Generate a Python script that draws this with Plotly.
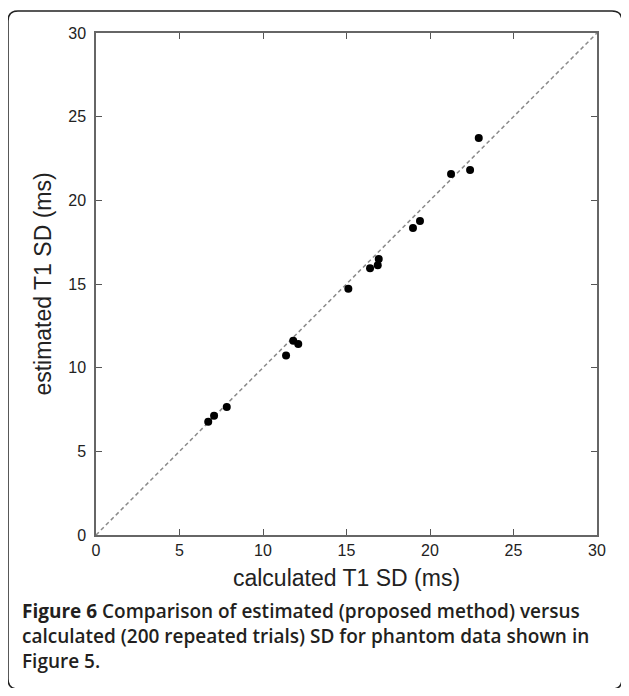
import plotly.graph_objects as go

calculated = [6.72, 7.07, 7.83, 11.38, 11.81, 12.11, 15.11, 16.41, 16.87, 16.93, 18.98, 19.40, 21.26, 22.40, 22.92]
estimated = [6.77, 7.13, 7.65, 10.72, 11.61, 11.42, 14.72, 15.94, 16.12, 16.50, 18.35, 18.77, 21.58, 21.82, 23.73]
tick_vals = [0, 5, 10, 15, 20, 25, 30]
x_title = "calculated T1 SD (ms)"
y_title = "estimated T1 SD (ms)"
caption_lines = [
    "<b>Figure 6</b> Comparison of estimated (proposed method) versus",
    "calculated (200 repeated trials) SD for phantom data shown in",
    "Figure 5.",
]

OFF = 8  # default body margin of the html page
W, H = 629 - 2 * OFF, 696 - 2 * OFF
# plot area in page pixel coordinates
L, R, T, B = 96 - OFF, 597 - OFF, 33 - OFF, 535 - OFF

def px(x):
    return (x - OFF - L) / (R - L)

def py(y):
    return (B - (y - OFF)) / (B - T)

fig = go.Figure()
fig.add_trace(go.Scatter(x=[0, 30], y=[0, 30], mode="lines",
                         line=dict(color="#8a8a8a", width=1.5, dash="4px,3px"),
                         hoverinfo="skip", showlegend=False))
fig.add_trace(go.Scatter(x=calculated, y=estimated, mode="markers",
                         marker=dict(color="black", size=8), showlegend=False))

axis_common = dict(range=[0, 30], tickvals=tick_vals, ticks="inside", ticklen=6,
                   tickcolor="#555", showline=True, linecolor="#666", linewidth=1.5,
                   mirror="ticks", showgrid=False, zeroline=False,
                   tickfont=dict(family="Liberation Sans", size=16, color="#222"))

fig.update_xaxes(**axis_common, title=dict(text=x_title, standoff=12,
                 font=dict(family="Liberation Sans", size=23, color="#222")))
fig.update_yaxes(**axis_common, ticklabelstandoff=5, title=dict(text=y_title, standoff=10,
                 font=dict(family="Liberation Sans", size=23, color="#222")))

# rounded frame (page pixel coords)
x0, y0, x1, y1, r = 8, 11, 622, 689, 10
path = (f"M {px(x0+r)},{py(y0)} L {px(x1-r)},{py(y0)} Q {px(x1)},{py(y0)} {px(x1)},{py(y0+r)} "
        f"L {px(x1)},{py(y1-r)} Q {px(x1)},{py(y1)} {px(x1-r)},{py(y1)} "
        f"L {px(x0+r)},{py(y1)} Q {px(x0)},{py(y1)} {px(x0)},{py(y1-r)} "
        f"L {px(x0)},{py(y0+r)} Q {px(x0)},{py(y0)} {px(x0+r)},{py(y0)} Z")
fig.add_shape(type="path", path=path, xref="paper", yref="paper",
              line=dict(color="#222", width=1.5), layer="above")

for i, line in enumerate(caption_lines):
    fig.add_annotation(text=line, x=px(20), y=py(611 + i * 25), xref="paper", yref="paper",
                       xanchor="left", yanchor="middle", showarrow=False,
                       font=dict(family="Open Sans", size=19, weight=600, color="#231f20"))

fig.update_layout(width=W, height=H, margin=dict(l=L, r=W - R, t=T, b=H - B),
                  paper_bgcolor="white", plot_bgcolor="white")
fig.write_html("out.html")
